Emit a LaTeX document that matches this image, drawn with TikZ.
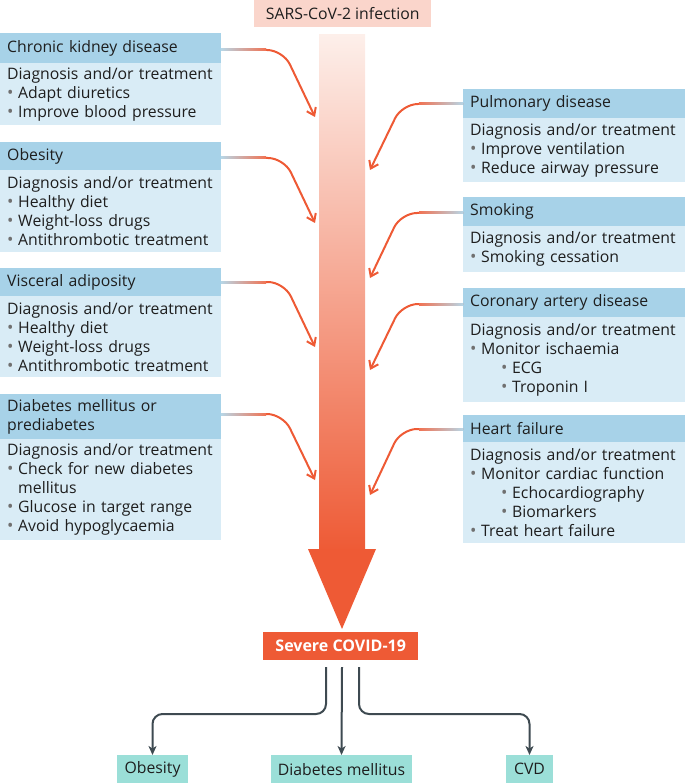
\documentclass[tikz,border=0pt]{standalone}
\usepackage{fontspec}
\setmainfont{Open Sans}
\usetikzlibrary{arrows.meta}
\definecolor{hdrblue}{HTML}{A7D2E8}
\definecolor{bodyblue}{HTML}{D9ECF6}
\definecolor{sarspink}{HTML}{FAD5CB}
\definecolor{tealbox}{HTML}{9BDFD8}
\definecolor{arrowred}{HTML}{EE5A35}
\definecolor{shafttop}{HTML}{FDEFEA}
\definecolor{darkline}{HTML}{3E4A51}
\definecolor{textcol}{HTML}{1E1E1E}
\definecolor{bulgray}{HTML}{707070}
\definecolor{linkblue}{HTML}{B7D6E6}
\newcommand\bu{\makebox[11pt][l]{\textcolor{bulgray}{\fontsize{17}{17}\selectfont\textbullet}}}
\newcommand\sbu{\hspace*{31pt}\bu}
\newcommand\cont{\hspace*{11pt}}
\tikzset{
  basefont/.style={font=\fontsize{15.8}{19}\selectfont, text=textcol},
  hdrL/.style={basefont, fill=hdrblue, anchor=north west, inner xsep=7pt, inner ysep=0pt, text width=207pt, minimum width=221pt, align=left},
  bodyL/.style={basefont, fill=bodyblue, anchor=north west, inner xsep=7pt, inner ysep=0pt, text width=207pt, minimum width=221pt, align=left},
  hdrR/.style={hdrL, text width=208pt, minimum width=222pt},
  bodyR/.style={bodyL, text width=208pt, minimum width=222pt},
  conn/.style={draw=arrowred, line width=2pt, rounded corners=16pt, -{Straight Barb[length=7pt,width=10pt,line width=2pt]}},
  outline/.style={draw=darkline, line width=2pt, rounded corners=10pt, -{Stealth[length=9pt,width=8pt,inset=2.5pt]}},
  tealnode/.style={basefont, fill=tealbox, anchor=north, inner sep=0pt, minimum height=28pt},
}
\begin{document}
\begin{tikzpicture}[x=1pt,y=-1pt]
\useasboundingbox (0,0) rectangle (685,783);

% main arrow
\shade[top color=shafttop, bottom color=arrowred] (319,35) rectangle (365,552);
\node[inner sep=0pt, minimum width=46pt, minimum height=517pt] (shaft) at (342,293.5) {};
\fill[arrowred] (308,549) -- (376,549) -- (342,629) -- cycle;

% top and bottom boxes
\node[basefont, fill=sarspink, anchor=north west, inner sep=0pt, minimum width=177pt, minimum height=27pt] (sars) at (254,0) {SARS-CoV-2 infection};
\node[font=\fontsize{16}{19}\selectfont\bfseries, text=white, fill=arrowred, anchor=north west, inner sep=0pt, minimum width=155pt, minimum height=28pt] (severe) at (263,632) {Severe COVID-19};

\node[tealnode, minimum width=71pt] (obb) at (152.5,755) {Obesity};
\node[tealnode, minimum width=141pt] (dmb) at (341.5,755) {Diabetes mellitus};
\node[tealnode, minimum width=47pt] (cvdb) at (529.5,755) {CVD};

% left boxes
\node[hdrL, minimum height=30pt] (ckdh) at (0,33) {Chronic kidney disease};
\node[bodyL, minimum height=62pt] (ckdb) at (0,63) {Diagnosis and/or treatment\\\bu Adapt diuretics\\\bu Improve blood pressure};

\node[hdrL, minimum height=28pt] (obh) at (0,142) {Obesity};
\node[bodyL, minimum height=82pt] (obbody) at (0,170) {Diagnosis and/or treatment\\\bu Healthy diet\\\bu Weight-loss drugs\\\bu Antithrombotic treatment};

\node[hdrL, minimum height=28pt] (vah) at (0,268) {Visceral adiposity};
\node[bodyL, minimum height=81pt] (vab) at (0,296) {Diagnosis and/or treatment\\\bu Healthy diet\\\bu Weight-loss drugs\\\bu Antithrombotic treatment};

\node[hdrL, minimum height=45pt] (dmh) at (0,394) {Diabetes mellitus or\\prediabetes};
\node[bodyL, minimum height=101pt] (dmbody) at (0,439) {Diagnosis and/or treatment\\\bu Check for new diabetes\\\cont mellitus\\\bu Glucose in target range\\\bu Avoid hypoglycaemia};

% right boxes
\node[hdrR, minimum height=29pt] (puh) at (463,89) {Pulmonary disease};
\node[bodyR, minimum height=64pt] (pub) at (463,118) {Diagnosis and/or treatment\\\bu Improve ventilation\\\bu Reduce airway pressure};

\node[hdrR, minimum height=29pt] (smh) at (463,197) {Smoking};
\node[bodyR, minimum height=46pt] (smb) at (463,226) {Diagnosis and/or treatment\\\bu Smoking cessation};

\node[hdrR, minimum height=29pt] (cah) at (463,288) {Coronary artery disease};
\node[bodyR, minimum height=85pt] (cab) at (463,317) {Diagnosis and/or treatment\\\bu Monitor ischaemia\\\sbu ECG\\\sbu Troponin I};

\node[hdrR, minimum height=27pt] (hfh) at (463,415) {Heart failure};
\node[bodyR, minimum height=101pt] (hfb) at (463,442) {Diagnosis and/or treatment\\\bu Monitor cardiac function\\\sbu Echocardiography\\\sbu Biomarkers\\\bu Treat heart failure};

% connector targets
\coordinate (t1) at (315,117);
\coordinate (t2) at (315,223);
\coordinate (t3) at (315,347);
\coordinate (t4) at (315,480);
\coordinate (t5) at (370,170);
\coordinate (t6) at (370,278);
\coordinate (t7) at (370,370);
\coordinate (t8) at (370,495);

% left connectors
\draw[conn] (221,50) -- (283,50) -- (t1);
\draw[conn] (221,158) -- (284,158) -- (t2);
\draw[conn] (221,282) -- (284,282) -- (t3);
\draw[conn] (221,414) -- (283,414) -- (t4);
\shade[left color=linkblue, right color=arrowred!85!white] (221,49) rectangle (266,51);
\shade[left color=linkblue, right color=arrowred!85!white] (221,157) rectangle (266,159);
\shade[left color=linkblue, right color=arrowred!85!white] (221,281) rectangle (266,283);
\shade[left color=linkblue, right color=arrowred!85!white] (221,413) rectangle (266,415);

% right connectors
\draw[conn] (463,104) -- (402,104) -- (t5);
\draw[conn] (463,213) -- (401,213) -- (t6);
\draw[conn] (463,304) -- (402,304) -- (t7);
\draw[conn] (463,429) -- (401,429) -- (t8);
\shade[right color=linkblue, left color=arrowred!85!white] (419,103) rectangle (463,105);
\shade[right color=linkblue, left color=arrowred!85!white] (419,212) rectangle (463,214);
\shade[right color=linkblue, left color=arrowred!85!white] (419,303) rectangle (463,305);
\shade[right color=linkblue, left color=arrowred!85!white] (419,428) rectangle (463,430);

% outcome connectors
\draw[outline] (326,667) -- (326,714) -- (obb.north |- 0,714) -- (obb.north);
\draw[outline] (342,667) -- (dmb.north);
\draw[outline] (359,667) -- (359,714) -- (cvdb.north |- 0,714) -- (cvdb.north);
\end{tikzpicture}
\end{document}
